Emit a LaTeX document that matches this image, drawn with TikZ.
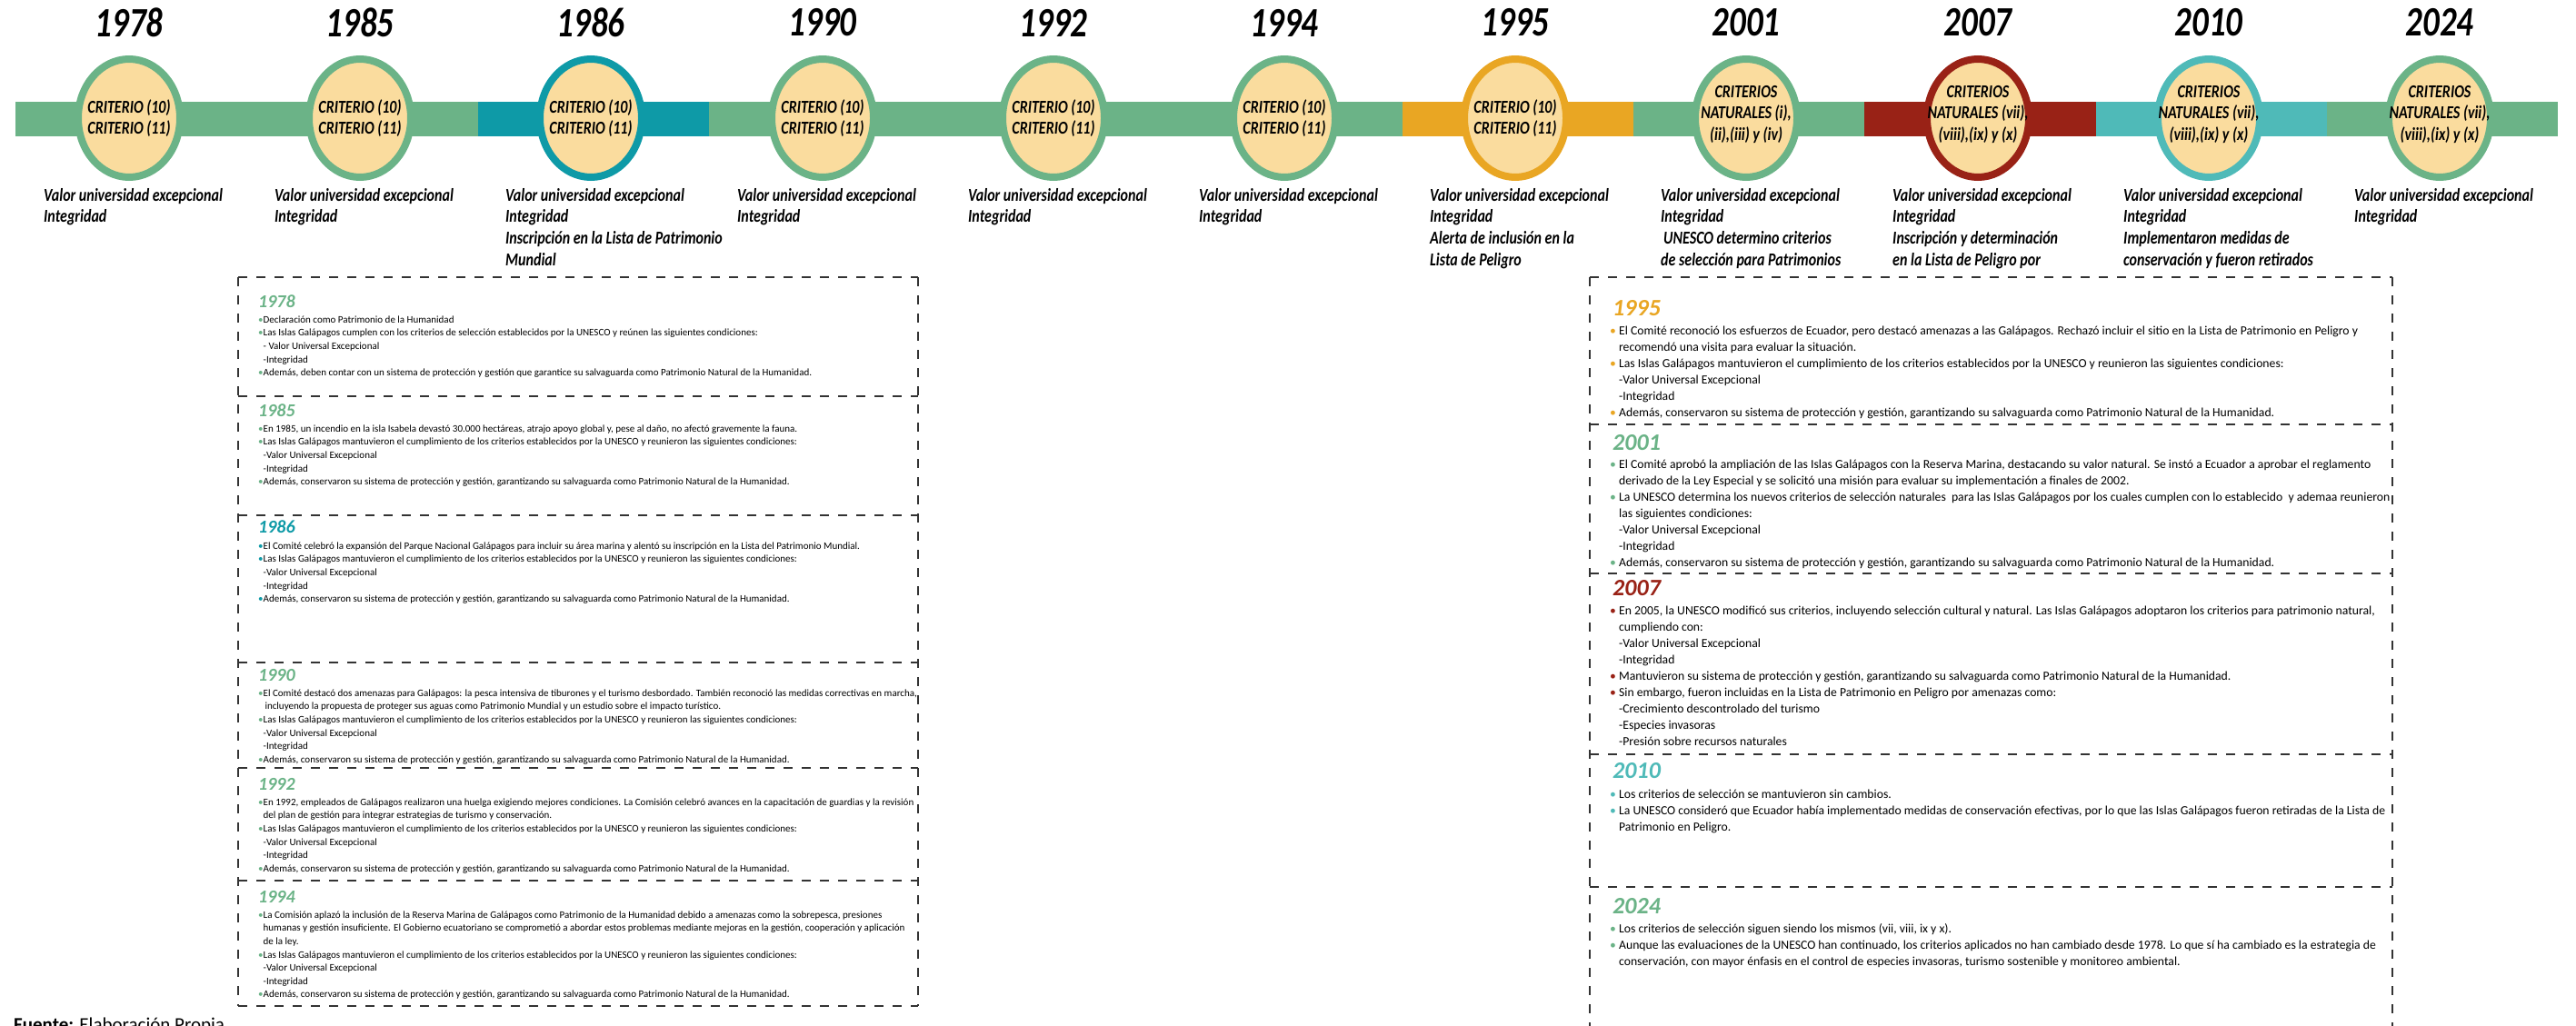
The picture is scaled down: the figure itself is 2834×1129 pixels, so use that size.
\documentclass[tikz,border=0pt]{standalone}
\usepackage{fontspec}
\setmainfont{Carlito}
\newfontfamily\estrecha[FakeStretch=0.8]{Carlito}
\usetikzlibrary{shapes.geometric}

\definecolor{verde}{HTML}{6BB387}
\definecolor{azul}{HTML}{0E9AA7}
\definecolor{naranja}{HTML}{E9A623}
\definecolor{rojo}{HTML}{992216}
\definecolor{turquesa}{HTML}{4FBAB8}
\definecolor{crema}{HTML}{FADC9E}

\newcommand{\pto}[1]{{\color{#1}\textbullet}}
\newcommand{\sang}{\hphantom{\textbullet}}
\newcommand{\sangd}{\hphantom{\textbullet\ }}

\begin{document}
\begin{tikzpicture}[x=1pt,y=-1pt,
    hito/.style={ellipse,line width=8pt,fill=crema,minimum width=112pt,minimum height=130pt,inner sep=0pt},
    crit/.style={align=center,inner sep=0pt,font=\estrecha\fontsize{20}{23.5}\selectfont\bfseries\itshape},
    anio/.style={inner sep=0pt,font=\estrecha\fontsize{46}{52}\selectfont\bfseries\itshape},
    valor/.style={anchor=north west,align=left,inner sep=0pt,font=\estrecha\fontsize{20}{23.7}\selectfont\bfseries\itshape},
    titulo/.style={anchor=west,inner sep=0pt,font=\fontsize{20}{24}\selectfont\bfseries\itshape},
    titulod/.style={anchor=west,inner sep=0pt,font=\fontsize{26}{30}\selectfont\bfseries\itshape},
    cuerpo/.style={anchor=north west,align=left,inner sep=0pt,font=\fontsize{11}{14.6}\selectfont},
    cuerpod/.style={anchor=north west,align=left,inner sep=0pt,font=\fontsize{13.7}{18}\selectfont},
    caja/.style={line width=1.5pt,black!80,dash pattern=on 10pt off 10pt}]
    \useasboundingbox (0,0) rectangle (2834,1129);

    % linea de tiempo
    \fill[verde] (17,112) rectangle (2814,150);
    \fill[azul] (526,112) rectangle (780,150);
    \fill[naranja] (1543,112) rectangle (1797,150);
    \fill[rojo] (2051,112) rectangle (2306,150);
    \fill[turquesa] (2306,112) rectangle (2560,150);

    % 1978
    \node[anio] (a78) at (142,25) {1978};
    \node[hito,draw=verde] (c78) at (142,130) {};
    \node[crit] (t78) at (c78) {CRITERIO (10)\\CRITERIO (11)};
    \node[valor] (v78) at (48,207) {Valor universidad excepcional\\Integridad};

    % 1985
    \node[anio] (a85) at (396,25) {1985};
    \node[hito,draw=verde] (c85) at (396,130) {};
    \node[crit] (t85) at (c85) {CRITERIO (10)\\CRITERIO (11)};
    \node[valor] (v85) at (302,207) {Valor universidad excepcional\\Integridad};

    % 1986
    \node[anio] (a86) at (650,25) {1986};
    \node[hito,draw=azul] (c86) at (650,130) {};
    \node[crit] (t86) at (c86) {CRITERIO (10)\\CRITERIO (11)};
    \node[valor] (v86) at (556,207) {Valor universidad excepcional\\Integridad\\Inscripción en la Lista de Patrimonio\\Mundial};

    % 1990
    \node[anio] (a90) at (905,25) {1990};
    \node[hito,draw=verde] (c90) at (905,130) {};
    \node[crit] (t90) at (c90) {CRITERIO (10)\\CRITERIO (11)};
    \node[valor] (v90) at (811,207) {Valor universidad excepcional\\Integridad};

    % 1992
    \node[anio] (a92) at (1159,25) {1992};
    \node[hito,draw=verde] (c92) at (1159,130) {};
    \node[crit] (t92) at (c92) {CRITERIO (10)\\CRITERIO (11)};
    \node[valor] (v92) at (1065,207) {Valor universidad excepcional\\Integridad};

    % 1994
    \node[anio] (a94) at (1413,25) {1994};
    \node[hito,draw=verde] (c94) at (1413,130) {};
    \node[crit] (t94) at (c94) {CRITERIO (10)\\CRITERIO (11)};
    \node[valor] (v94) at (1319,207) {Valor universidad excepcional\\Integridad};

    % 1995
    \node[anio] (a95) at (1667,25) {1995};
    \node[hito,draw=naranja] (c95) at (1667,130) {};
    \node[crit] (t95) at (c95) {CRITERIO (10)\\CRITERIO (11)};
    \node[valor] (v95) at (1573,207) {Valor universidad excepcional\\Integridad\\Alerta de inclusión en la\\Lista de Peligro};

    % 2001
    \node[anio] (a01) at (1921,25) {2001};
    \node[hito,draw=verde] (c01) at (1921,130) {};
    \node[crit] (t01) at (1921,126) {CRITERIOS\\NATURALES (i),\\(ii),(iii) y (iv)};
    \node[valor] (v01) at (1827,207) {Valor universidad excepcional\\Integridad\\\hspace*{3pt}UNESCO determino criterios\\de selección para Patrimonios};

    % 2007
    \node[anio] (a07) at (2176,25) {2007};
    \node[hito,draw=rojo] (c07) at (2176,130) {};
    \node[crit] (t07) at (2176,126) {CRITERIOS\\NATURALES (vii),\\(viii),(ix) y (x)};
    \node[valor] (v07) at (2082,207) {Valor universidad excepcional\\Integridad\\Inscripción y determinación\\en la Lista de Peligro por};

    % 2010
    \node[anio] (a10) at (2430,25) {2010};
    \node[hito,draw=turquesa] (c10) at (2430,130) {};
    \node[crit] (t10) at (2430,126) {CRITERIOS\\NATURALES (vii),\\(viii),(ix) y (x)};
    \node[valor] (v10) at (2336,207) {Valor universidad excepcional\\Integridad\\Implementaron medidas de\\conservación y fueron retirados};

    % 2024
    \node[anio] (a24) at (2684,25) {2024};
    \node[hito,draw=verde] (c24) at (2684,130) {};
    \node[crit] (t24) at (2684,126) {CRITERIOS\\NATURALES (vii),\\(viii),(ix) y (x)};
    \node[valor] (v24) at (2590,207) {Valor universidad excepcional\\Integridad};

    % cuadro izquierdo
    \fill[white] (262,305) rectangle (1010,1107);
    \draw[caja] (262,305) -- (262,1107);
    \draw[caja] (1010,305) -- (1010,1107);
    \draw[caja] (262,305) -- (1010,305);
    \draw[caja] (262,436) -- (1010,436);
    \draw[caja] (262,567) -- (1010,567);
    \draw[caja] (262,729) -- (1010,729);
    \draw[caja] (262,845) -- (1010,845);
    \draw[caja] (262,969) -- (1010,969);
    \draw[caja] (262,1107) -- (1010,1107);

    \node[titulo,text=verde] (h78) at (284,332) {1978};
    \node[cuerpo] (b78) at (284,347.5) {\pto{verde}Declaración como Patrimonio de la Humanidad\\
        \pto{verde}Las Islas Galápagos cumplen con los criterios de selección establecidos por la UNESCO y reúnen las siguientes condiciones:\\
        \sang- Valor Universal Excepcional\\
        \sang-Integridad\\
        \pto{verde}Además, deben contar con un sistema de protección y gestión que garantice su salvaguarda como Patrimonio Natural de la Humanidad.};

    \node[titulo,text=verde] (h85) at (284,452) {1985};
    \node[cuerpo] (b85) at (284,467.5) {\pto{verde}En 1985, un incendio en la isla Isabela devastó 30.000 hectáreas, atrajo apoyo global y, pese al daño, no afectó gravemente la fauna.\\
        \pto{verde}Las Islas Galápagos mantuvieron el cumplimiento de los criterios establecidos por la UNESCO y reunieron las siguientes condiciones:\\
        \sang-Valor Universal Excepcional\\
        \sang-Integridad\\
        \pto{verde}Además, conservaron su sistema de protección y gestión, garantizando su salvaguarda como Patrimonio Natural de la Humanidad.};

    \node[titulo,text=azul] (h86) at (284,580) {1986};
    \node[cuerpo] (b86) at (284,596.5) {\pto{azul}El Comité celebró la expansión del Parque Nacional Galápagos para incluir su área marina y alentó su inscripción en la Lista del Patrimonio Mundial.\\
        \pto{azul}Las Islas Galápagos mantuvieron el cumplimiento de los criterios establecidos por la UNESCO y reunieron las siguientes condiciones:\\
        \sang-Valor Universal Excepcional\\
        \sang-Integridad\\
        \pto{azul}Además, conservaron su sistema de protección y gestión, garantizando su salvaguarda como Patrimonio Natural de la Humanidad.};

    \node[titulo,text=verde] (h90) at (284,743) {1990};
    \node[cuerpo] (b90) at (284,758.5) {\pto{verde}El Comité destacó dos amenazas para Galápagos: la pesca intensiva de tiburones y el turismo desbordado. También reconoció las medidas correctivas en marcha,\\
        \sang\,incluyendo la propuesta de proteger sus aguas como Patrimonio Mundial y un estudio sobre el impacto turístico.\\
        \pto{verde}Las Islas Galápagos mantuvieron el cumplimiento de los criterios establecidos por la UNESCO y reunieron las siguientes condiciones:\\
        \sang-Valor Universal Excepcional\\
        \sang-Integridad\\
        \pto{verde}Además, conservaron su sistema de protección y gestión, garantizando su salvaguarda como Patrimonio Natural de la Humanidad.};

    \node[titulo,text=verde] (h92) at (284,863) {1992};
    \node[cuerpo] (b92) at (284,878.5) {\pto{verde}En 1992, empleados de Galápagos realizaron una huelga exigiendo mejores condiciones. La Comisión celebró avances en la capacitación de guardias y la revisión\\
        \sang del plan de gestión para integrar estrategias de turismo y conservación.\\
        \pto{verde}Las Islas Galápagos mantuvieron el cumplimiento de los criterios establecidos por la UNESCO y reunieron las siguientes condiciones:\\
        \sang-Valor Universal Excepcional\\
        \sang-Integridad\\
        \pto{verde}Además, conservaron su sistema de protección y gestión, garantizando su salvaguarda como Patrimonio Natural de la Humanidad.};

    \node[titulo,text=verde] (h94) at (284,987) {1994};
    \node[cuerpo] (b94) at (284,1002.5) {\pto{verde}La Comisión aplazó la inclusión de la Reserva Marina de Galápagos como Patrimonio de la Humanidad debido a amenazas como la sobrepesca, presiones\\
        \sang humanas y gestión insuficiente. El Gobierno ecuatoriano se comprometió a abordar estos problemas mediante mejoras en la gestión, cooperación y aplicación\\
        \sang de la ley.\\
        \pto{verde}Las Islas Galápagos mantuvieron el cumplimiento de los criterios establecidos por la UNESCO y reunieron las siguientes condiciones:\\
        \sang-Valor Universal Excepcional\\
        \sang-Integridad\\
        \pto{verde}Además, conservaron su sistema de protección y gestión, garantizando su salvaguarda como Patrimonio Natural de la Humanidad.};

    % cuadro derecho
    \fill[white] (1749,305) rectangle (2632,1140);
    \draw[caja] (1749,305) -- (1749,1140);
    \draw[caja] (2632,305) -- (2632,1140);
    \draw[caja] (1749,305) -- (2632,305);
    \draw[caja] (1749,467) -- (2632,467);
    \draw[caja] (1749,631) -- (2632,631);
    \draw[caja] (1749,830) -- (2632,830);
    \draw[caja] (1749,976) -- (2632,976);

    \node[titulod,text=naranja] (h95) at (1774,339) {1995};
    \node[cuerpod] (b95) at (1771,358.5) {\pto{naranja} El Comité reconoció los esfuerzos de Ecuador, pero destacó amenazas a las Galápagos. Rechazó incluir el sitio en la Lista de Patrimonio en Peligro y\\
        \sangd recomendó una visita para evaluar la situación.\\
        \pto{naranja} Las Islas Galápagos mantuvieron el cumplimiento de los criterios establecidos por la UNESCO y reunieron las siguientes condiciones:\\
        \sangd-Valor Universal Excepcional\\
        \sangd-Integridad\\
        \pto{naranja} Además, conservaron su sistema de protección y gestión, garantizando su salvaguarda como Patrimonio Natural de la Humanidad.};

    \node[titulod,text=verde] (h01) at (1774,487) {2001};
    \node[cuerpod] (b01) at (1771,505.5) {\pto{verde} El Comité aprobó la ampliación de las Islas Galápagos con la Reserva Marina, destacando su valor natural. Se instó a Ecuador a aprobar el reglamento\\
        \sangd derivado de la Ley Especial y se solicitó una misión para evaluar su implementación a finales de 2002.\\
        \pto{verde} La UNESCO determina los nuevos criterios de selección naturales\ \ para las Islas Galápagos por los cuales cumplen con lo establecido\ \ y ademaa reunieron\\
        \sangd las siguientes condiciones:\\
        \sangd-Valor Universal Excepcional\\
        \sangd-Integridad\\
        \pto{verde} Además, conservaron su sistema de protección y gestión, garantizando su salvaguarda como Patrimonio Natural de la Humanidad.};

    \node[titulod,text=rojo] (h07) at (1774,647) {2007};
    \node[cuerpod] (b07) at (1771,666.5) {\pto{rojo} En 2005, la UNESCO modificó sus criterios, incluyendo selección cultural y natural. Las Islas Galápagos adoptaron los criterios para patrimonio natural,\\
        \sangd cumpliendo con:\\
        \sangd-Valor Universal Excepcional\\
        \sangd-Integridad\\
        \pto{rojo} Mantuvieron su sistema de protección y gestión, garantizando su salvaguarda como Patrimonio Natural de la Humanidad.\\
        \pto{rojo} Sin embargo, fueron incluidas en la Lista de Patrimonio en Peligro por amenazas como:\\
        \sangd-Crecimiento descontrolado del turismo\\
        \sangd-Especies invasoras\\
        \sangd-Presión sobre recursos naturales};

    \node[titulod,text=turquesa] (h10) at (1774,848) {2010};
    \node[cuerpod] (b10) at (1771,868.5) {\pto{turquesa} Los criterios de selección se mantuvieron sin cambios.\\
        \pto{turquesa} La UNESCO consideró que Ecuador había implementado medidas de conservación efectivas, por lo que las Islas Galápagos fueron retiradas de la Lista de\\
        \sangd Patrimonio en Peligro.};

    \node[titulod,text=verde] (h24) at (1774,997) {2024};
    \node[cuerpod] (b24) at (1771,1016.5) {\pto{verde} Los criterios de selección siguen siendo los mismos (vii, viii, ix y x).\\
        \pto{verde} Aunque las evaluaciones de la UNESCO han continuado, los criterios aplicados no han cambiado desde 1978. Lo que sí ha cambiado es la estrategia de\\
        \sangd conservación, con mayor énfasis en el control de especies invasoras, turismo sostenible y monitoreo ambiental.};

    % fuente
    \node[anchor=base west,inner sep=0pt,font=\fontsize{21}{25}\selectfont] (fuente) at (15,1134) {\textbf{Fuente:} Elaboración Propia};
\end{tikzpicture}
\end{document}
